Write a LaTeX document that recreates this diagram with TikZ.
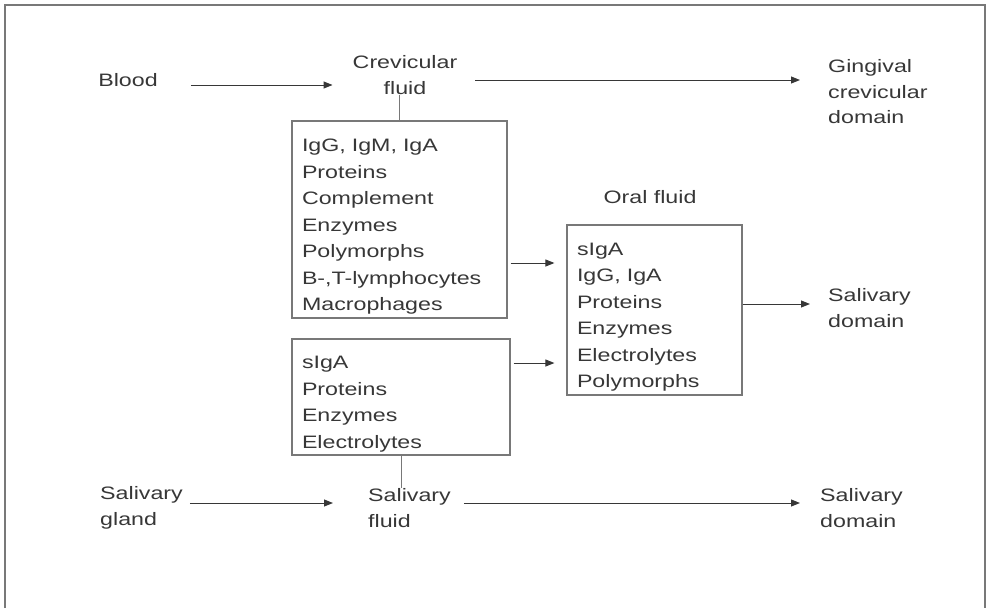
\documentclass[tikz,border=0pt]{standalone}
\usepackage{fontspec}
\setmainfont[FakeStretch=1.29]{Liberation Sans}
\usepackage{tikz}
\usetikzlibrary{positioning,arrows.meta,calc}
\definecolor{inkgray}{RGB}{55,55,55}
\definecolor{linegray}{RGB}{120,120,120}

\begin{document}
\begin{tikzpicture}[
  x=1pt, y=-1pt,
  every node/.style={font=\fontsize{18}{25.5}\selectfont, text=inkgray, inner sep=0pt},
  lbl/.style={align=left},
  bb/.style={rectangle, draw=linegray, line width=1.2pt, align=left,
             inner xsep=10pt, font=\fontsize{18}{26.5}\selectfont,
             execute at begin node={\rule{0pt}{27pt}}},
  arrowstyle/.style={-{Triangle[length=9pt,width=7pt]}, line width=1pt, color=inkgray},
  tie/.style={line width=1pt, color=linegray}
]
  \useasboundingbox (0,0) rectangle (988,608);
  \draw[line width=1.5pt, color=linegray] (5,608) -- (5,5) -- (985,5) -- (985,608);

  % top row
  \node[lbl] (blood) at (128,80) {Blood};
  \node[align=center] (crev) at (405,75) {Crevicular\\fluid};
  \node[lbl, anchor=west] (ging) at (828,92) {Gingival\\crevicular\\domain};

  % boxes
  \node[bb, text width=195pt, minimum height=197pt] (cbox) at (399.5,219.5)
    {IgG, IgM, IgA\\Proteins\\Complement\\Enzymes\\Polymorphs\\B-,T-lymphocytes\\Macrophages};
  \node[bb, text width=198pt, minimum height=116pt] (sbox) at (401,397)
    {sIgA\\Proteins\\Enzymes\\Electrolytes};
  \node[bb, text width=155pt, minimum height=170pt] (obox) at (654.5,310)
    {sIgA\\IgG, IgA\\Proteins\\Enzymes\\Electrolytes\\Polymorphs};
  \node (oral) at (650,197) {Oral fluid};
  \node[lbl, anchor=west] (saldom) at (828,308) {Salivary\\domain};

  % bottom row
  \node[lbl, anchor=west] (gland) at (100,508) {Salivary\\gland};
  \node[lbl, anchor=west] (sfluid) at (368,508) {Salivary\\fluid};
  \node[lbl, anchor=west] (saldomb) at (820,508) {Salivary\\domain};

  % connectors
  \draw[arrowstyle, shorten <=33pt, shorten >=20pt] ([yshift=-5pt]blood.east) -- ([yshift=-5pt]blood.east -| crev.west);
  \draw[arrowstyle, shorten <=18pt, shorten >=28pt] ([yshift=-5pt]crev.east) -- ([yshift=-5pt]crev.east -| ging.west);
  \draw[tie] (cbox.north) -- (cbox.north |- crev.south);
  \draw[arrowstyle, shorten <=3pt, shorten >=12pt] ([yshift=-43.5pt]cbox.east) -- ([yshift=-43.5pt]cbox.east -| obox.west);
  \draw[arrowstyle, shorten <=3pt, shorten >=12pt] ([yshift=34pt]sbox.east) -- ([yshift=34pt]sbox.east -| obox.west);
  \draw[arrowstyle, shorten >=18pt] ([yshift=6pt]obox.east) -- ([yshift=6pt]obox.east -| saldom.west);
  \draw[tie] (sbox.south) -- (sbox.south |- sfluid.north);
  \draw[arrowstyle, shorten <=7pt, shorten >=35pt] ([yshift=5pt]gland.east) -- ([yshift=5pt]gland.east -| sfluid.west);
  \draw[arrowstyle, shorten <=13pt, shorten >=20pt] ([yshift=5pt]sfluid.east) -- ([yshift=5pt]sfluid.east -| saldomb.west);
\end{tikzpicture}
\end{document}
